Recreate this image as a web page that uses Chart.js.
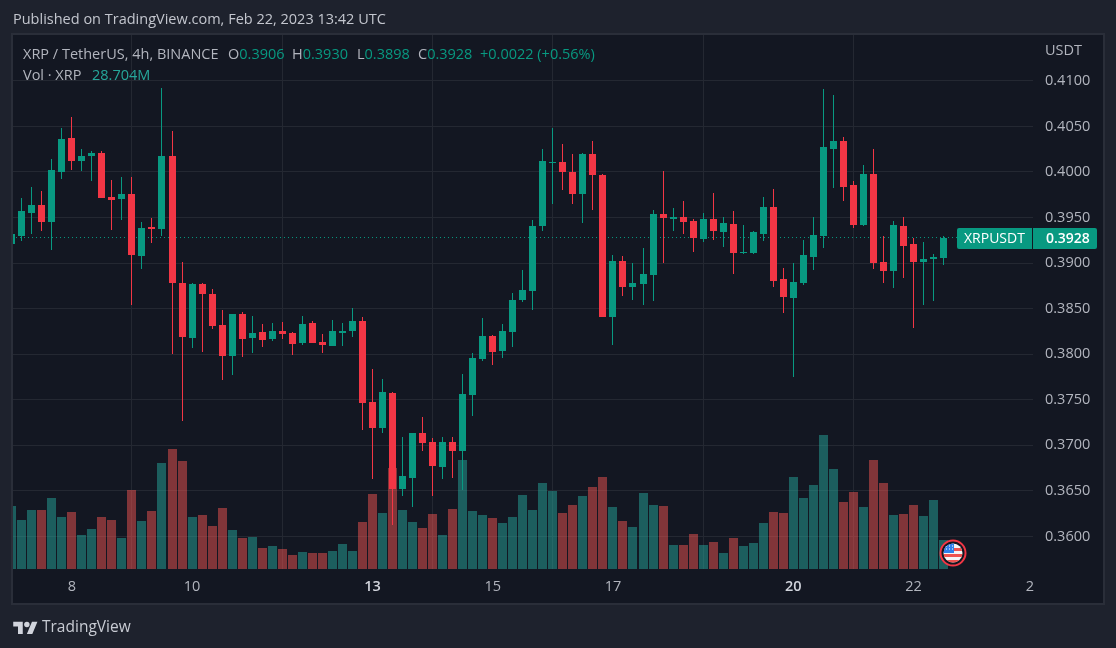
<!DOCTYPE html>
<html>
<head>
<meta charset="utf-8">
<title>XRPUSDT 4h</title>
<script src="https://cdn.jsdelivr.net/npm/chart.js@4/dist/chart.umd.min.js"></script>
<style>
  html, body { margin: 0; padding: 0; background: #1e222d; overflow: hidden; }
  #wrap { position: relative; width: 1116px; height: 648px; font-family: "Open Sans", sans-serif; }
  canvas { position: absolute; left: 0; top: 0; }
  .txt { position: absolute; white-space: nowrap; font-size: 14.5px; line-height: 18px; color: #b2b5be; }
  .up { color: #089981; }
  .vol { color: #26a69a; }
</style>
</head>
<body>
<div id="wrap">
  <canvas id="chart" width="1116" height="648"></canvas>
  <div class="txt" style="left:13px;top:10px;color:#c3c6ce">Published on TradingView.com, Feb 22, 2023 13:42 UTC</div>
  <div class="txt" style="left:23px;top:45px">XRP / TetherUS, 4h, BINANCE</div>
  <div class="txt" style="left:228px;top:45px">O<span class="up">0.3906</span></div>
  <div class="txt" style="left:292px;top:45px">H<span class="up">0.3930</span></div>
  <div class="txt" style="left:357px;top:45px">L<span class="up">0.3898</span></div>
  <div class="txt" style="left:418px;top:45px">C<span class="up">0.3928</span></div>
  <div class="txt up" style="left:480px;top:45px">+0.0022 (+0.56%)</div>
  <div class="txt" style="left:23px;top:66px">Vol · XRP</div>
  <div class="txt vol" style="left:92px;top:66px">28.704M</div>
  <div class="txt" style="left:1045px;top:41px">USDT</div>

  <!-- earnings / event marker -->
  <svg style="position:absolute;left:939px;top:539px" width="28" height="28" viewBox="0 0 28 28">
    <defs><clipPath id="flagClip"><circle cx="14" cy="14" r="9.5"/></clipPath></defs>
    <circle cx="14" cy="14" r="12.5" fill="#131722" stroke="#f23645" stroke-width="2"/>
    <g clip-path="url(#flagClip)">
      <rect x="4" y="4" width="20" height="20" fill="#f5f5f7"/>
      <rect x="4" y="9" width="20" height="3" fill="#ef5350"/>
      <rect x="4" y="15" width="20" height="3" fill="#ef5350"/>
      <rect x="4" y="21" width="20" height="3" fill="#ef5350"/>
      <rect x="4" y="4" width="11" height="10" fill="#2f80ed"/>
      <path d="M7 7h1M10 7h1M13 7h1M7 10h1M10 10h1M13 10h1" stroke="#fff" stroke-width="1"/>
    </g>
  </svg>

  <svg style="position:absolute;left:13px;top:619px" width="25" height="15" viewBox="0 0 36 22" fill="#d1d4dc">
    <path d="M14 22H7V11H0V4h14v18zM28 22h-8l7.5-18h8L28 22z"/><circle cx="20" cy="8" r="4"/>
  </svg>
  <div class="txt" style="left:42px;top:617px;font-size:15.5px;color:#c8cbd3">TradingView</div>
</div>

<script>
// candles, 4h bars, oldest first (first one is cut by the pane edge)
const opens = [
  0.3921, 0.3930, 0.3955, 0.3964, 0.3945, 0.4000, 0.4037, 0.4012, 0.4017, 0.4021,
  0.3973, 0.3970, 0.3976, 0.3908, 0.3940, 0.3937, 0.4017, 0.3878, 0.3818, 0.3877,
  0.3866, 0.3832, 0.3798, 0.3844, 0.3818, 0.3824, 0.3817, 0.3825, 0.3823, 0.3812,
  0.3834, 0.3813, 0.3809, 0.3823, 0.3825, 0.3836, 0.3747, 0.3719, 0.3757, 0.3652,
  0.3664, 0.3713, 0.3704, 0.3676, 0.3704, 0.3694, 0.3755, 0.3795, 0.3820, 0.3803,
  0.3824, 0.3859, 0.3869, 0.3941, 0.4010, 0.4011, 0.4000, 0.3976, 0.4020, 0.3997,
  0.3841, 0.3902, 0.3874, 0.3877, 0.3887, 0.3954, 0.3948, 0.3950, 0.3946, 0.3926,
  0.3948, 0.3934, 0.3943, 0.3911, 0.3911, 0.3932, 0.3962, 0.3882, 0.3862, 0.3878,
  0.3907, 0.3930, 0.4025, 0.4034, 0.3986, 0.3942, 0.3998, 0.3901, 0.3891, 0.3941,
  0.3921, 0.3901, 0.3904, 0.3906
];
const highs = [
  0.3932, 0.3971, 0.3984, 0.3979, 0.4014, 0.4048, 0.4060, 0.4025, 0.4023, 0.4023,
  0.3991, 0.3994, 0.3994, 0.3945, 0.3949, 0.4092, 0.4045, 0.3901, 0.3878, 0.3878,
  0.3871, 0.3849, 0.3844, 0.3846, 0.3842, 0.3833, 0.3834, 0.3835, 0.3824, 0.3842,
  0.3836, 0.3822, 0.3837, 0.3834, 0.3851, 0.3841, 0.3784, 0.3773, 0.3758, 0.3709,
  0.3714, 0.3731, 0.3708, 0.3709, 0.3709, 0.3778, 0.3801, 0.3840, 0.3821, 0.3833,
  0.3867, 0.3892, 0.3947, 0.4025, 0.4048, 0.4031, 0.4020, 0.4021, 0.4034, 0.3998,
  0.3909, 0.3908, 0.3900, 0.3916, 0.3958, 0.4001, 0.3960, 0.3968, 0.3948, 0.3955,
  0.3977, 0.3950, 0.3957, 0.3942, 0.3935, 0.3973, 0.3981, 0.3895, 0.3900, 0.3925,
  0.3950, 0.4091, 0.4084, 0.4038, 0.3990, 0.4008, 0.4025, 0.3930, 0.3946, 0.3950,
  0.3927, 0.3923, 0.3910, 0.3930
];
const lows = [
  0.3921, 0.3924, 0.3932, 0.3935, 0.3914, 0.3992, 0.4002, 0.4001, 0.3990, 0.3971,
  0.3936, 0.3947, 0.3854, 0.3894, 0.3922, 0.3930, 0.3800, 0.3727, 0.3807, 0.3802,
  0.3828, 0.3772, 0.3777, 0.3797, 0.3801, 0.3808, 0.3814, 0.3817, 0.3799, 0.3810,
  0.3812, 0.3801, 0.3809, 0.3809, 0.3819, 0.3717, 0.3663, 0.3713, 0.3612, 0.3644,
  0.3632, 0.3694, 0.3644, 0.3663, 0.3664, 0.3651, 0.3732, 0.3793, 0.3788, 0.3796,
  0.3808, 0.3857, 0.3849, 0.3935, 0.3965, 0.3980, 0.3965, 0.3944, 0.3958, 0.3841,
  0.3810, 0.3864, 0.3859, 0.3854, 0.3858, 0.3900, 0.3935, 0.3932, 0.3912, 0.3923,
  0.3925, 0.3918, 0.3888, 0.3910, 0.3910, 0.3924, 0.3874, 0.3845, 0.3775, 0.3876,
  0.3892, 0.3916, 0.3982, 0.3968, 0.3938, 0.3941, 0.3893, 0.3878, 0.3873, 0.3884,
  0.3829, 0.3854, 0.3858, 0.3898
];
const closes = [
  0.3932, 0.3957, 0.3964, 0.3945, 0.4002, 0.4036, 0.4012, 0.4018, 0.4021, 0.3971,
  0.3969, 0.3976, 0.3909, 0.3939, 0.3937, 0.4018, 0.3878, 0.3819, 0.3877, 0.3866,
  0.3831, 0.3798, 0.3844, 0.3817, 0.3823, 0.3815, 0.3825, 0.3822, 0.3811, 0.3833,
  0.3812, 0.3810, 0.3825, 0.3825, 0.3836, 0.3746, 0.3719, 0.3758, 0.3652, 0.3666,
  0.3713, 0.3702, 0.3677, 0.3704, 0.3694, 0.3756, 0.3796, 0.3820, 0.3802, 0.3825,
  0.3859, 0.3870, 0.3941, 0.4012, 0.4011, 0.4000, 0.3976, 0.4020, 0.3997, 0.3841,
  0.3902, 0.3874, 0.3878, 0.3888, 0.3954, 0.3949, 0.3950, 0.3945, 0.3927, 0.3948,
  0.3935, 0.3944, 0.3911, 0.3912, 0.3934, 0.3961, 0.3880, 0.3863, 0.3879, 0.3909,
  0.3931, 0.4027, 0.4034, 0.3983, 0.3942, 0.3998, 0.3900, 0.3891, 0.3942, 0.3919,
  0.3901, 0.3904, 0.3907, 0.3928
];
// volume in millions of XRP
const volumes = [
  62.4, 48.5, 58.4, 58.4, 70.3, 51.5, 56.4, 33.7, 39.6, 51.5,
  48.5, 30.7, 78.2, 47.5, 57.4, 104.9, 118.8, 106.9, 51.5, 53.5,
  42.6, 60.4, 38.6, 30.7, 31.7, 20.8, 22.8, 19.8, 13.9, 16.8,
  15.8, 15.8, 17.8, 24.8, 17.8, 46.5, 74.3, 55.4, 100.0, 58.4,
  46.5, 40.6, 54.5, 33.7, 59.4, 107.9, 57.4, 53.5, 50.5, 45.5,
  51.5, 73.3, 58.4, 85.1, 77.2, 55.4, 63.4, 72.3, 81.2, 91.1,
  61.4, 47.5, 41.6, 75.2, 63.4, 62.4, 23.8, 23.8, 34.7, 23.8,
  26.7, 15.8, 30.7, 22.8, 25.7, 45.5, 56.4, 55.4, 91.1, 70.3,
  83.2, 132.7, 99.0, 66.3, 76.2, 61.4, 107.9, 85.1, 53.5, 54.5,
  63.4, 52.5, 68.3, 28.7
];
const priceTicks = [0.41, 0.405, 0.40, 0.395, 0.39, 0.385, 0.38, 0.375, 0.37, 0.365, 0.36];
const dateTicks = [6, 18, 36, 48, 60, 78, 90, 101.6];
const dateLabels = ['8', '10', '13', '15', '17', '20', '22', '2'];
const boldDates = ['13', '20'];

const UP = '#089981', DOWN = '#f23645';
const GRID = '#242832';
const lastClose = closes[closes.length - 1];
const isUp = opens.map((o, i) => closes[i] >= o);

const wicks = lows.map((l, i) => ({ x: i, y: [l, highs[i]] }));
const bodies = opens.map((o, i) => ({ x: i, y: [Math.min(o, closes[i]), Math.max(o, closes[i])] }));
const volBars = volumes.map((v, i) => ({ x: i, y: v }));

const isBoldTick = ctx => !!ctx.tick && boldDates.includes(ctx.tick.label);

// pane background and frame
const panePlugin = {
  id: 'pane',
  beforeDraw(chart) {
    const c = chart.ctx;
    c.save();
    c.fillStyle = '#1e222d';
    c.fillRect(0, 0, chart.width, chart.height);
    c.fillStyle = '#131722';
    c.fillRect(13, 35, 1090, 568);
    c.strokeStyle = '#2a2e39';
    c.lineWidth = 2;
    c.strokeRect(12, 34, 1092, 570);
    c.restore();
  }
};

// snap the bars to whole pixels so wicks stay crisp
const snapPlugin = {
  id: 'snap',
  beforeDatasetsDraw(chart) {
    chart.data.datasets.forEach((ds, idx) => {
      if (ds.type === 'line') return;
      chart.getDatasetMeta(idx).data.forEach(el => {
        el.x = Math.floor(el.x) + 0.5;
        el.y = Math.round(el.y);
        el.base = Math.round(el.base);
        if (el.base === el.y) el.base = el.y + 1;
      });
    });
  }
};

// symbol + last price tag on the price axis
const lastPricePlugin = {
  id: 'lastPrice',
  afterDraw(chart) {
    const c = chart.ctx;
    const y = Math.round(chart.scales.y.getPixelForValue(lastClose));
    c.save();
    c.fillStyle = UP;
    c.beginPath();
    c.roundRect(957, y - 10, 140, 21, 2);
    c.fill();
    c.fillStyle = '#131722';
    c.fillRect(1032, y - 10, 1, 21);
    c.fillStyle = '#ffffff';
    c.font = '14px "Open Sans"';
    c.textBaseline = 'middle';
    c.textAlign = 'left';
    c.fillText('XRPUSDT', 964, y + 1);
    c.font = '600 14px "Open Sans"';
    c.fillText(lastClose.toFixed(4), 1046, y + 1);
    c.restore();
  }
};

new Chart(document.getElementById('chart'), {
  type: 'bar',
  data: {
    datasets: [
      { label: 'Volume', yAxisID: 'y2', data: volBars, order: 4, grouped: false, barThickness: 9, inflateAmount: 0,
        backgroundColor: isUp.map(u => u ? 'rgba(38,166,154,0.5)' : 'rgba(239,83,80,0.5)') },
      // starts on a whole pixel so the dots don't smear
      { label: 'Last', type: 'line', data: [{ x: 0.034, y: lastClose }, { x: 94.4, y: lastClose }], order: 3,
        borderColor: UP, borderWidth: 1, borderDash: [1, 3], pointRadius: 0 },
      { label: 'Wick', data: wicks, order: 2, grouped: false, barThickness: 1, inflateAmount: 0,
        backgroundColor: isUp.map(u => u ? UP : DOWN) },
      { label: 'Body', data: bodies, order: 1, grouped: false, barThickness: 7, inflateAmount: 0,
        backgroundColor: isUp.map(u => u ? UP : DOWN) }
    ]
  },
  options: {
    responsive: false,
    animation: false,
    events: [],
    layout: { padding: { left: 13, top: 35, right: 0, bottom: 0 } },
    plugins: { legend: { display: false }, tooltip: { enabled: false } },
    scales: {
      x: {
        type: 'linear',
        offset: false,
        min: 0.1337,
        max: 101.914,
        afterBuildTicks(scale) { scale.ticks = dateTicks.map(v => ({ value: v })); },
        afterFit(scale) { scale.height = 79; },
        border: { display: false },
        grid: {
          drawTicks: false,
          color: ctx => (ctx.tick && ctx.tick.value > 100 ? 'transparent' : GRID)
        },
        ticks: {
          autoSkip: false,
          maxRotation: 0,
          padding: 9,
          callback(value) { return dateLabels[dateTicks.indexOf(value)]; },
          color: ctx => (isBoldTick(ctx) ? '#d1d4dc' : '#b2b5be'),
          font: ctx => ({
            family: '"Open Sans"',
            size: 14.5,
            weight: isBoldTick(ctx) ? '600' : '400'
          })
        }
      },
      y: {
        position: 'right',
        min: 0.35642,
        max: 0.41503,
        afterBuildTicks(scale) { scale.ticks = priceTicks.map(v => ({ value: v })); },
        afterFit(scale) { scale.width = 83; },
        border: { display: false },
        grid: { drawTicks: false, color: GRID },
        ticks: {
          padding: 12,
          color: '#b2b5be',
          font: { family: '"Open Sans"', size: 14.5 },
          callback: value => value.toFixed(4)
        }
      },
      // volume overlay, bottom of the pane
      y2: { display: false, min: 0, max: 528.7 }
    }
  },
  plugins: [panePlugin, snapPlugin, lastPricePlugin]
});
</script>
</body>
</html>
